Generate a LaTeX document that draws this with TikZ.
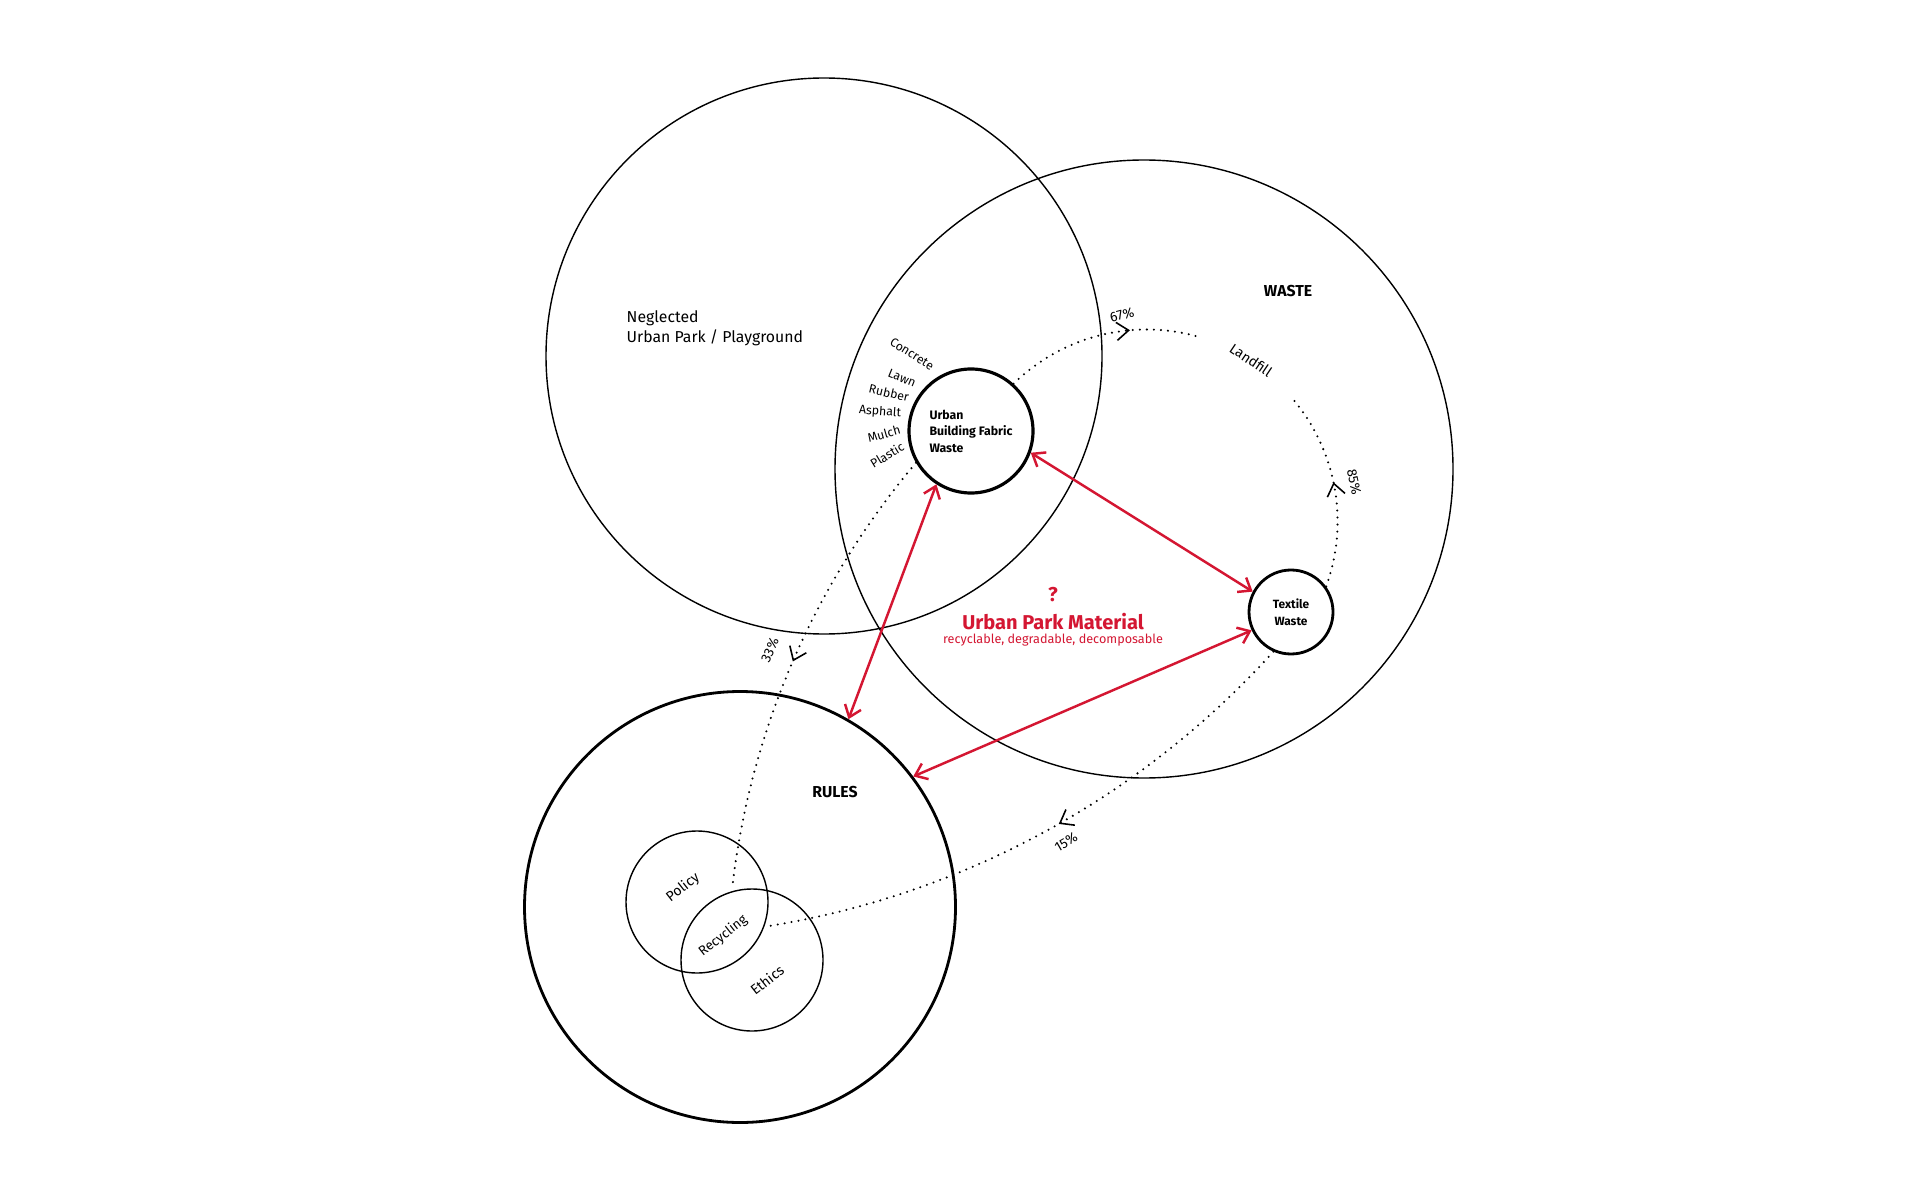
\documentclass[tikz,border=0pt]{standalone}
\usepackage{fontspec}
\setmainfont{Fira Sans}
\usetikzlibrary{calc,arrows.meta,decorations.markings}
\definecolor{parkred}{RGB}{212,22,50}

\tikzset{
  ring/.style={circle, draw, inner sep=0pt, line width=#1},
  flow/.style={line width=0.65pt, dash pattern=on 0pt off 2pt, line cap=round,
    postaction={decorate},
    decoration={markings, mark=at position #1 with {\arrow[line width=0.45pt]{Straight Barb[length=1.2mm,width=1.8mm]}}}},
  link/.style={parkred, line width=0.7pt,
    {Straight Barb[length=1.1mm,width=1.7mm]}-{Straight Barb[length=1.1mm,width=1.7mm]}},
  txt/.style={font=\fontsize{4.5pt}{5.7pt}\selectfont, inner sep=0pt},
  head/.style={font=\bfseries\fontsize{4.5pt}{5.5pt}\selectfont, inner sep=0pt},
  mat/.style={font=\fontsize{3.5pt}{4pt}\selectfont, inner sep=0pt},
  pct/.style={font=\fontsize{3.9pt}{4.5pt}\selectfont, inner sep=0pt},
}

\begin{document}
\begin{tikzpicture}
    \fill[white] (0,0) rectangle (19.2,12);
    \useasboundingbox (0,0) rectangle (19.2,12);

    \node[ring=0.4pt, minimum size=5.56cm] (park) at (8.24,8.44) {};
    \node[ring=0.4pt, minimum size=6.18cm] (waste) at (11.44,7.31) {};
    \node[ring=0.8pt, minimum size=4.31cm] (rules) at (7.40,2.93) {};
    \node[ring=0.4pt, minimum size=1.42cm] (policy) at (6.97,2.98) {};
    \node[ring=0.4pt, minimum size=1.42cm] (ethics) at (7.52,2.40) {};
    \node[ring=0.9pt, minimum size=1.24cm, align=left,
          font=\bfseries\fontsize{3.5pt}{4.7pt}\selectfont] (ubfw) at (9.71,7.69)
          {Urban\\Building Fabric\\Waste};
    \node[ring=0.8pt, minimum size=0.84cm, align=center,
          font=\bfseries\fontsize{3.4pt}{4.7pt}\selectfont] (textile) at (12.91,5.88)
          {Textile\\Waste};

    \node[txt, anchor=west, align=left] (parklbl) at (6.26,8.72) {Neglected\\Urban Park / Playground};
    \node[head] (wastelbl) at (12.88,9.09) {WASTE};
    \node[head] (ruleslbl) at (8.35,4.08) {RULES};
    \node[txt, font=\fontsize{4pt}{5pt}\selectfont, rotate=-34] (landfill) at (12.51,8.40) {Landfill};

    \node[mat, rotate=-32] at (9.12,8.46) {Concrete};
    \node[mat, rotate=-22] at (9.02,8.22) {Lawn};
    \node[mat, rotate=-13] at (8.89,8.07) {Rubber};
    \node[mat, rotate=-4] at (8.80,7.88) {Asphalt};
    \node[mat, rotate=16] at (8.84,7.66) {Mulch};
    \node[mat, rotate=31] at (8.87,7.45) {Plastic};

    \node[txt, font=\fontsize{4pt}{5pt}\selectfont, rotate=38] (policylbl) at (6.83,3.12) {Policy};
    \node[txt, font=\fontsize{3.8pt}{5pt}\selectfont, rotate=38] (recycling) at (7.23,2.64) {Recycling};
    \node[txt, font=\fontsize{4pt}{5pt}\selectfont, rotate=38] (ethicslbl) at (7.67,2.20) {Ethics};

    \draw[flow=0.66] (ubfw.48) arc[start angle=134.4, end angle=74.7, radius=1.9];
    \draw[flow=0.52] (textile.36) arc[start angle=-20, end angle=41.4, radius=1.9];
    \draw[flow=0.50] (ubfw.210) arc[start angle=139.8, end angle=173.4, radius=8];
    \draw[flow=0.47] (textile.246) arc[start angle=-42.1, end angle=-81, radius=8.66];

    \node[pct, rotate=15] at (11.22,8.85) {67\%};
    \node[pct, rotate=-78] at (13.54,7.18) {85\%};
    \node[pct, rotate=66] at (7.70,5.50) {33\%};
    \node[pct, rotate=30] at (10.66,3.58) {15\%};

    \draw[link] (ubfw.237) -- (rules.60);
    \draw[link] (ubfw.-20) -- (textile.152);
    \draw[link] (textile.205) -- (rules.37);

    \node[parkred, font=\bfseries\fontsize{5.7pt}{6pt}\selectfont, inner sep=0pt] (quest) at (10.53,6.05) {?};
    \node[parkred, font=\bfseries\fontsize{5.7pt}{6pt}\selectfont, inner sep=0pt] (material) at (10.53,5.78) {Urban Park Material};
    \node[parkred, font=\fontsize{3.6pt}{4pt}\selectfont, inner sep=0pt] (props) at (10.53,5.60) {recyclable, degradable, decomposable};
\end{tikzpicture}
\end{document}
